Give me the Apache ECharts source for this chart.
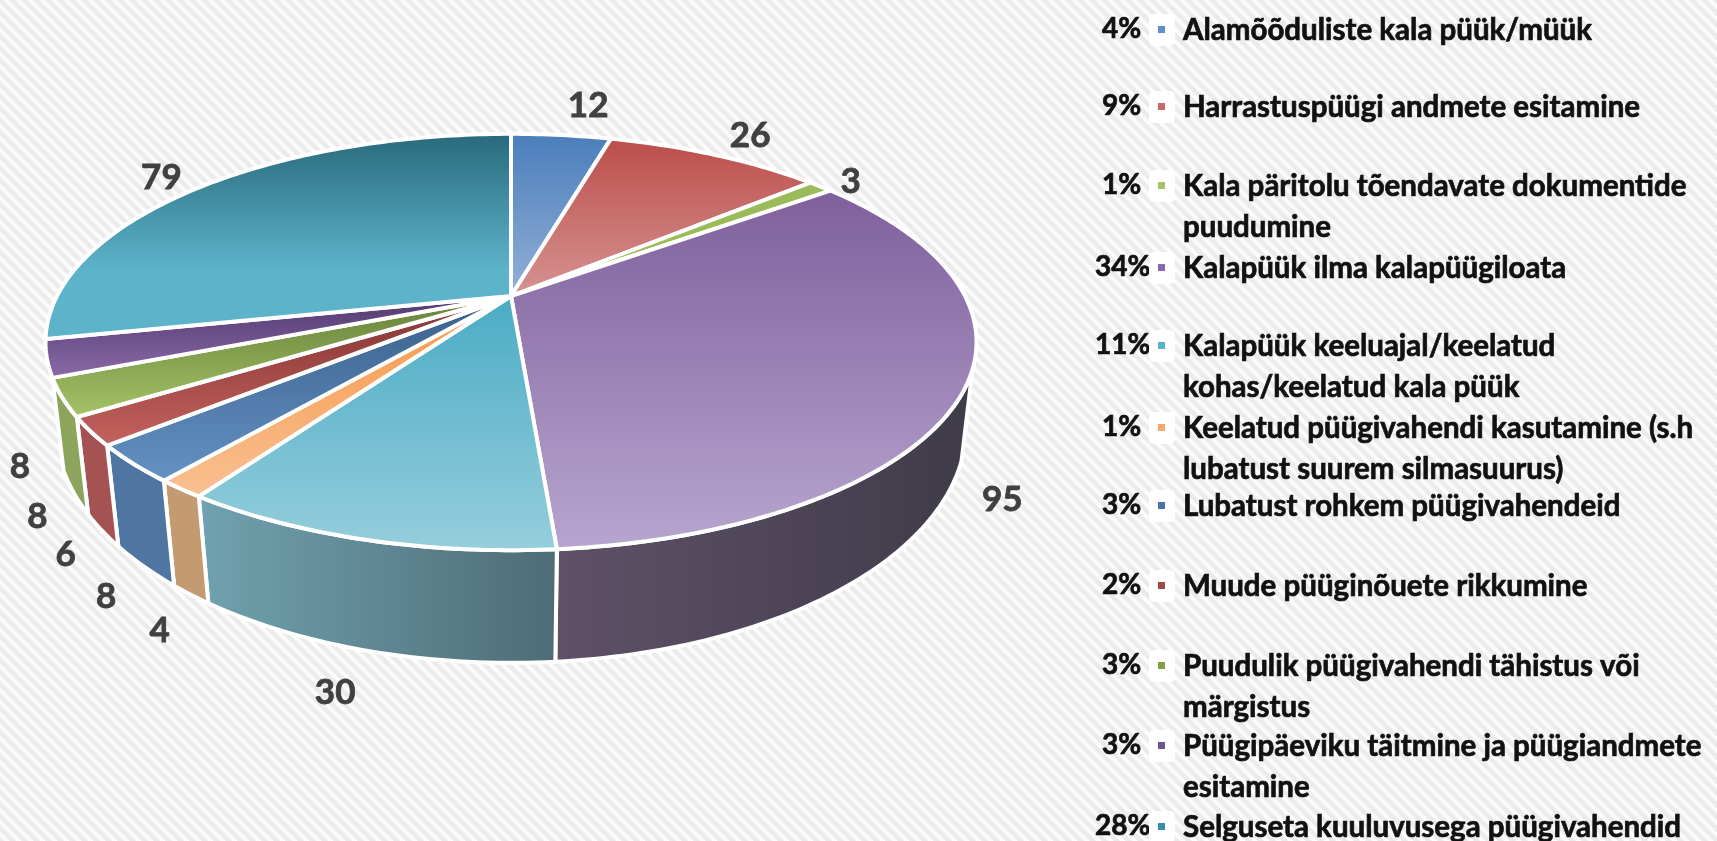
<!DOCTYPE html>
<html style="height: 100%">
<head>
    <meta charset="utf-8">
</head>
<body style="height: 100%; margin: 0">
<div id="container" style="width: 1717px; height: 841px"></div>

<script src="https://cdn.jsdelivr.net/npm/echarts@6/dist/echarts.min.js"></script>
<script type="text/javascript">
    // data
    var names = [
        'Alamõõduliste kala püük/müük',
        'Harrastuspüügi andmete esitamine',
        'Kala päritolu tõendavate dokumentide\npuudumine',
        'Kalapüük ilma kalapüügiloata',
        'Kalapüük keeluajal/keelatud\nkohas/keelatud kala püük',
        'Keelatud püügivahendi kasutamine (s.h\nlubatust suurem silmasuurus)',
        'Lubatust rohkem püügivahendeid',
        'Muude püüginõuete rikkumine',
        'Puudulik püügivahendi tähistus või\nmärgistus',
        'Püügipäeviku täitmine ja püügiandmete\nesitamine',
        'Selguseta kuuluvusega püügivahendid'
    ];
    var values = [12, 26, 3, 95, 30, 4, 8, 6, 8, 8, 79];

    // top face colours: [colour at gradient start, colour at end, y start, y end]
    var topFaces = [
        ['#4a7ebb', '#93b0d6', 134, 296],
        ['#bb4e4b', '#d69391', 139, 296],
        ['#9bbb59', '#9bbb59', 180, 296],
        ['#7f5f9c', '#b7a6cf', 190, 550],
        ['#4aabc5', '#96cedc', 296, 550],
        ['#f79646', '#f8c193', 296, 500],
        ['#375f8a', '#6592c4', 296, 482],
        ['#7f3230', '#c5625f', 296, 447],
        ['#66803a', '#a5c366', 296, 418],
        ['#52386f', '#8a6aa8', 296, 378],
        ['#296a7c', '#5cb3ca', 134, 270]
    ];
    // side wall colours, left to right
    var sideFaces = [
        null, null, null,
        ['#5f5168', '#3f3b48'],
        ['#70a2af', '#4e6c77'],
        ['#c49a70', '#c49a70'],
        ['#4f75a3', '#4f75a3'],
        ['#a55352', '#a55352'],
        ['#8ca45c', '#8ca45c'],
        null, null
    ];
    var markerColors = ['#5f8fc9', '#c96a68', '#a5c366', '#8868ae', '#58b4cc', '#f8a868', '#4a74a8', '#a04a48', '#84a044', '#6e5490', '#3a8ea8'];

    // layout
    var labelOffsets = [[27, -29], [35, -19], [30, -5], [36, 114], [-28, 153], [-21, 142], [-27, 133], [-25, 123], [-25, 119], [-27, 108], [-40, -9]];
    var legendRowY = [30, 107, 186, 268, 346, 428, 506, 586, 666, 746, 827];
    var total = values.reduce(function (a, b) { return a + b; }, 0);
    var fontFamily = 'Lato, "Open Sans", sans-serif';

    // the disc is a circle seen in perspective
    var topRing = {cx: 511, cy: 296, a: 454, b: 198, k: 0.221};
    var bottomRing = {cx: 511, cy: 378, a: 445, b: 225, k: 0.21};
    var sideFrom = 110, sideTo = 248;

    function project(ring, deg) {
        var t = deg * Math.PI / 180;
        var u = Math.sin(t), v = Math.cos(t);
        var d = 1 + ring.k * v;
        return [ring.cx + ring.a * u / d, ring.cy - ring.b * v / d];
    }

    function arc(ring, from, to) {
        var pts = [];
        var n = Math.max(2, Math.ceil(Math.abs(to - from)));
        for (var i = 0; i <= n; i++) {
            pts.push(project(ring, from + (to - from) * i / n));
        }
        return pts;
    }

    function startAngle(index) {
        var sum = 0;
        for (var i = 0; i < index; i++) {
            sum += values[i];
        }
        return sum / total * 360;
    }

    function renderTop(params) {
        var i = params.dataIndex;
        var from = startAngle(i);
        var to = startAngle(i + 1);
        var f = topFaces[i];
        var mid = project(topRing, (from + to) / 2);
        return {
            type: 'group',
            children: [{
                type: 'polygon',
                shape: {points: [[topRing.cx, topRing.cy]].concat(arc(topRing, from, to))},
                style: {
                    fill: new echarts.graphic.LinearGradient(0, f[2], 0, f[3], [
                        {offset: 0, color: f[0]},
                        {offset: 1, color: f[1]}
                    ], true),
                    stroke: '#fff',
                    lineWidth: 4,
                    lineJoin: 'round'
                }
            }, {
                type: 'text',
                style: {
                    text: String(values[i]),
                    x: mid[0] + labelOffsets[i][0],
                    y: mid[1] + labelOffsets[i][1],
                    align: 'center',
                    verticalAlign: 'middle',
                    font: 'bold 35px ' + fontFamily,
                    fill: '#404040',
                    stroke: '#404040',
                    lineWidth: 0.8
                }
            }]
        };
    }

    function renderSide(params) {
        var i = params.dataIndex;
        var f = sideFaces[i];
        if (!f) {
            return null;
        }
        var from = Math.max(startAngle(i), sideFrom);
        var to = Math.min(startAngle(i + 1), sideTo);
        var upper = arc(topRing, from, to);
        var lower = arc(bottomRing, to, from);
        var xs = upper.concat(lower).map(function (p) { return p[0]; });
        var x0 = Math.min.apply(null, xs);
        var x1 = Math.max.apply(null, xs);
        return {
            type: 'polygon',
            shape: {points: upper.concat(lower)},
            style: {
                fill: new echarts.graphic.LinearGradient(x0, 0, x1, 0, [
                    {offset: 0, color: f[0]},
                    {offset: 1, color: f[1]}
                ], true),
                stroke: '#fff',
                lineWidth: 4,
                lineJoin: 'round'
            }
        };
    }

    function legendGraphic() {
        var els = [];
        names.forEach(function (name, i) {
            var y = legendRowY[i];
            var pct = Math.round(values[i] / total * 100);
            els.push({
                type: 'text',
                style: {
                    text: pct + '%',
                    x: pct >= 10 ? 1095 : 1102,
                    y: y - 1,
                    verticalAlign: 'middle',
                    font: 'bold 28px ' + fontFamily,
                    fill: '#111',
                    stroke: '#111',
                    lineWidth: 0.7
                }
            });
            els.push({
                type: 'rect',
                shape: {x: 1149, y: y - 16, width: 26, height: 32, r: 5},
                style: {fill: '#fff'}
            });
            els.push({
                type: 'rect',
                shape: {x: 1158, y: y - 4, width: 7, height: 7},
                style: {fill: markerColors[i]}
            });
            els.push({
                type: 'text',
                style: {
                    text: name,
                    x: 1183,
                    y: y - 20,
                    font: 'bold 29.5px ' + fontFamily,
                    lineHeight: 41,
                    fill: '#111',
                    stroke: '#111',
                    lineWidth: 0.7
                }
            });
        });
        return els;
    }

    // hatched page background
    function hatchTile() {
        var size = 12;
        var c = document.createElement('canvas');
        c.width = size;
        c.height = size;
        var ctx = c.getContext('2d');
        ctx.fillStyle = '#fcfcfc';
        ctx.fillRect(0, 0, size, size);
        ctx.strokeStyle = '#ebebeb';
        ctx.lineWidth = 4.5;
        for (var o = -size; o <= size; o += size) {
            ctx.beginPath();
            ctx.moveTo(o - 2, -2);
            ctx.lineTo(o + size + 2, size + 2);
            ctx.stroke();
        }
        return c;
    }

    var myChart = echarts.init(document.getElementById('container'));

    var option = {
        animation: false,
        backgroundColor: {image: hatchTile(), repeat: 'repeat'},
        graphic: {elements: legendGraphic()},
        series: [
            {
                type: 'custom',
                name: 'side',
                coordinateSystem: 'none',
                silent: true,
                z: 2,
                data: values,
                renderItem: renderSide
            },
            {
                type: 'custom',
                name: 'top',
                coordinateSystem: 'none',
                silent: true,
                z: 3,
                data: values,
                renderItem: renderTop
            }
        ]
    };

    myChart.setOption(option);
</script>
</body>
</html>
